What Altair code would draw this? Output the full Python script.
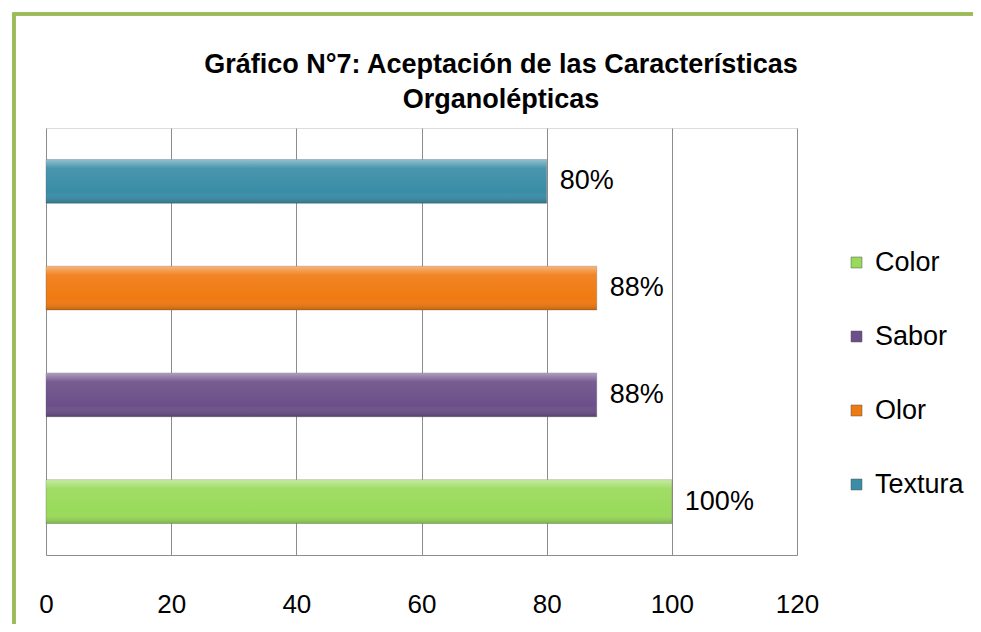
import altair as alt
import pandas as pd

categorias = ["Textura", "Olor", "Sabor", "Color"]
valores = [80, 88, 88, 100]
etiquetas = ["80%", "88%", "88%", "100%"]
orden_leyenda = ["Color", "Sabor", "Olor", "Textura"]
colores = ["#99DA5A", "#6C4F89", "#F07A12", "#3A8DA7"]
ticks_x = [0, 20, 40, 60, 80, 100, 120]
titulo = ["Gráfico N°7: Aceptación de las Características", "Organolépticas"]

df = pd.DataFrame({"cat": categorias, "val": valores, "lab": etiquetas})

FONT = "Liberation Sans"

y_enc = alt.Y("cat:N", sort=categorias, axis=None,
              scale=alt.Scale(paddingInner=0.59, paddingOuter=0.295))
x_enc = alt.X("val:Q", scale=alt.Scale(domain=[0, 120], nice=False),
              axis=alt.Axis(values=ticks_x, title=None, ticks=False, grid=True,
                            gridColor="#8C8C8C", gridWidth=1, domainColor="#8C8C8C",
                            labelFont=FONT, labelFontSize=26, labelColor="#000000",
                            labelPadding=36, labelFlush=False))

bars = alt.Chart(df).mark_bar(stroke="#555555", strokeWidth=0.6, strokeOpacity=0.5).encode(
    x=x_enc,
    y=y_enc,
    color=alt.Color("cat:N", scale=alt.Scale(domain=orden_leyenda, range=colores),
                    legend=alt.Legend(title=None, orient="none", legendX=797, legendY=121,
                                      symbolType="square", symbolSize=120,
                                      symbolStrokeWidth=0.5, symbolStrokeColor="#555555",
                                      labelFont=FONT, labelFontSize=27, labelColor="#000000",
                                      rowPadding=46, labelOffset=5)),
)

shine = alt.Chart(df).mark_bar(
    color=alt.Gradient(gradient="linear", x1=0, x2=0, y1=0, y2=1,
                       stops=[alt.GradientStop(color="rgba(255,255,255,0.45)", offset=0),
                              alt.GradientStop(color="rgba(255,255,255,0.08)", offset=0.2),
                              alt.GradientStop(color="rgba(255,255,255,0.0)", offset=0.75),
                              alt.GradientStop(color="rgba(0,0,0,0.18)", offset=1)])
).encode(x="val:Q", y=y_enc)

text = alt.Chart(df).mark_text(align="left", baseline="middle", dx=13, font=FONT,
                               fontSize=27, color="#000000").encode(
    x="val:Q", y=y_enc, text="lab:N")

title_mark = alt.Chart(df.head(1)).mark_text(
    align="center", baseline="middle", font=FONT, fontSize=27, fontWeight="bold",
    color="#000000", lineHeight=35).encode(
    x=alt.value(455), y=alt.value(-63.5), text=alt.value(titulo))

border_v = alt.Chart(df).mark_rule(color="#9BBB59", strokeWidth=3).encode(
    x=alt.value(-32), y=alt.value(-115), y2=alt.value(520))
border_h = alt.Chart(df).mark_rule(color="#9BBB59", strokeWidth=3).encode(
    x=alt.value(-33.5), x2=alt.value(940), y=alt.value(-114))

chart = alt.layer(bars, shine, text, title_mark, border_v, border_h).properties(
    width=751, height=427,
    autosize=alt.AutoSizeParams(type="none"),
    padding={"left": 38, "top": 120, "right": 176, "bottom": 69},
).configure_view(strokeWidth=0, stroke="transparent").configure(background="#FFFFFF")

chart.save("out.html", embed_options={"renderer": "svg", "actions": False})
